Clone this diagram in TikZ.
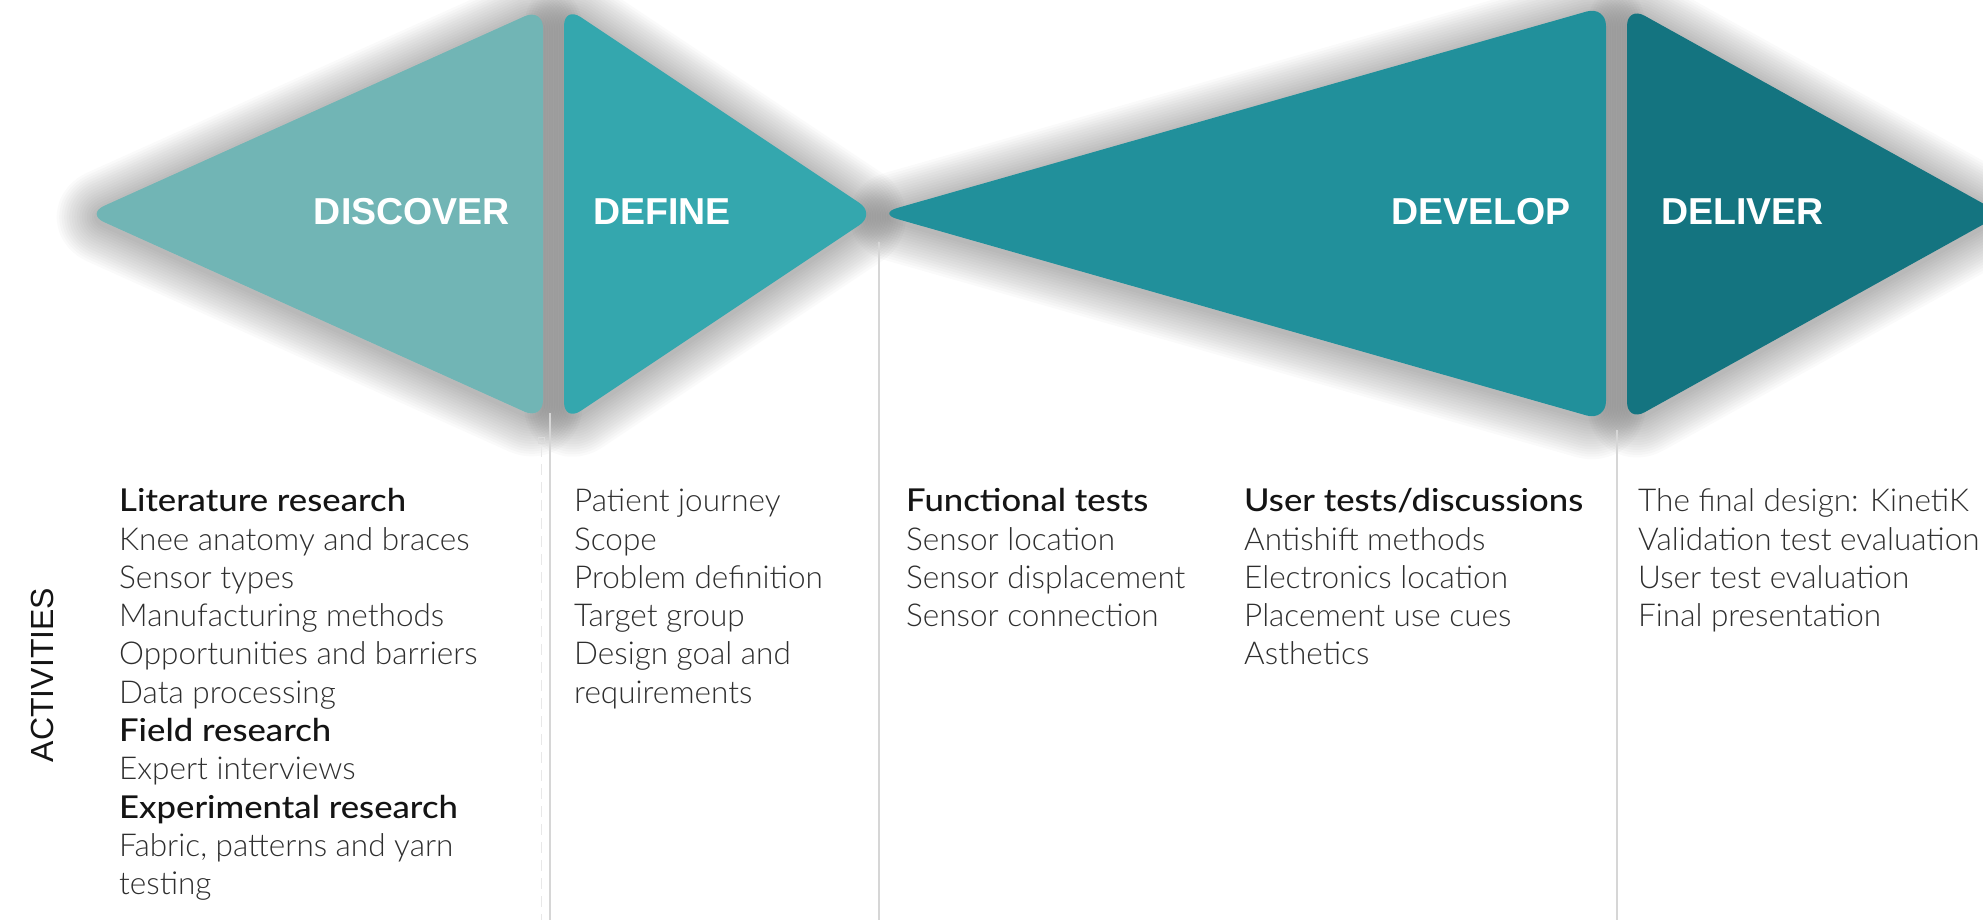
\documentclass[tikz,border=0pt]{standalone}
\usepackage{fontspec}
\setmainfont{Liberation Sans}
\IfFontExistsTF{Lato Light}
  {\newfontfamily\lightfont{Lato Light}}
  {\newfontfamily\lightfont{Liberation Sans}}
\IfFontExistsTF{Lato Medium}
  {\newfontfamily\medfont{Lato Medium}[FakeStretch=1.1]}
  {\newfontfamily\medfont{Liberation Sans}}
\newfontfamily\headfont{Liberation Sans}[BoldFont={Liberation Sans Bold}]

\definecolor{discover}{HTML}{71B5B5}
\definecolor{define}{HTML}{34A7AE}
\definecolor{develop}{HTML}{21909B}
\definecolor{deliver}{HTML}{147480}
\definecolor{divider}{HTML}{D6D6D6}
\definecolor{ink}{HTML}{2E2E2E}
\definecolor{inkdark}{HTML}{141414}

\newcommand\itemfont{\lightfont\fontsize{31.5}{38}\selectfont}
\newcommand\titlefont{\headfont\bfseries\fontsize{37.5}{40}\selectfont}
\newcommand\actfont{\headfont\fontsize{32}{34}\selectfont}
\newcommand\hd{\medfont\color{inkdark}}

\tikzset{
  phase/.style={rounded corners=20pt},
  glow/.style={phase, line join=round, draw=black, draw opacity=0.02},
  title/.style={font=\titlefont, text=white, inner sep=0pt},
  item/.style={font=\itemfont, text=ink, anchor=base west, inner sep=0pt},
  divider/.style={draw=divider, line width=1.3pt},
}

\begin{document}
\begin{tikzpicture}[x=1pt,y=-1pt]
  \useasboundingbox (0,0) rectangle (1983,920);
  \clip (0,0) rectangle (1983,920);

  % corner points of the four phase triangles (m = middle of the flat side)
  \coordinate (dcm) at (543,214);  \coordinate (dca) at (543,8);
  \coordinate (dct) at (86,214);   \coordinate (dcb) at (543,420);
  \coordinate (dfm) at (564,214);  \coordinate (dfa) at (564,6);
  \coordinate (dft) at (876,214);  \coordinate (dfb) at (564,422);
  \coordinate (dvm) at (1606,213.5); \coordinate (dva) at (1606,6);
  \coordinate (dvt) at (878,213.5);  \coordinate (dvb) at (1606,421);
  \coordinate (dlm) at (1627,214); \coordinate (dla) at (1627,6);
  \coordinate (dlt) at (2002,214); \coordinate (dlb) at (1627,422);

  % soft drop shadow: stacked translucent strokes, slightly lowered
  \begin{scope}[transform canvas={yshift=-3pt}]
    \foreach \n in {dc, df, dv, dl}
      \foreach \w in {5,10,...,80}
        \draw[glow, line width=\w pt] (\n m) -- (\n a) -- (\n t) -- (\n b) -- cycle;
  \end{scope}

  % phase triangles
  \foreach \n/\c in {dc/discover, df/define, dv/develop, dl/deliver}
    \fill[phase, \c] (\n m) -- (\n a) -- (\n t) -- (\n b) -- cycle;

  % phase titles
  \node[title, anchor=base east] (tdiscover) at (510,225) {DISCOVER};
  \node[title, anchor=base west] (tdefine)   at (593,225) {DEFINE};
  \node[title, anchor=base east] (tdevelop)  at (1571,225) {DEVELOP};
  \node[title, anchor=base west] (tdeliver)  at (1661,225) {DELIVER};

  % column dividers
  \coordinate (v1t) at (550,413);  \coordinate (v1b) at (550,920);
  \coordinate (v2t) at (879,242);  \coordinate (v2b) at (879,920);
  \coordinate (v3t) at (1617,430); \coordinate (v3b) at (1617,920);
  \draw[divider] (v1t) -- (v1b);
  \draw[divider] (v2t) -- (v2b);
  \draw[divider] (v3t) -- (v3b);
  \coordinate (g1t) at (541,446); \coordinate (g1b) at (541,920);
  \draw[gray!18, line width=1pt, dash pattern=on 11pt off 7pt] (g1t) -- (g1b);
  \draw[gray!28, line width=0.8pt] (538,437) rectangle (544,443);

  % side label
  \node[rotate=90, font=\actfont, text=inkdark, inner sep=0pt] (act) at (42,675) {ACTIVITIES};

  % activity lists
  \foreach \t [count=\i from 0] in {{\hd Literature research}, Knee anatomy and braces,
      Sensor types, Manufacturing methods, Opportunities and barriers, Data processing,
      {\hd Field research}, Expert interviews, {\hd Experimental research},
      {Fabric, patterns and yarn}, testing}
    \node[item, name=a\i] at (119, 511.7+38.3*\i) {\t};
  \foreach \t [count=\i from 0] in {Patient journey, Scope, Problem definition,
      Target group, Design goal and, requirements}
    \node[item, name=b\i] at (574, 511.7+38.3*\i) {\t};
  \foreach \t [count=\i from 0] in {{\hd Functional tests}, Sensor location,
      Sensor displacement, Sensor connection}
    \node[item, name=c\i] at (906, 511.7+38.3*\i) {\t};
  \foreach \t [count=\i from 0] in {{\hd User tests/discussions}, Antishift methods,
      Electronics location, Placement use cues, Asthetics}
    \node[item, name=d\i] at (1244, 511.7+38.3*\i) {\t};
  \foreach \t [count=\i from 0] in {The final design: KinetiK, Validation test evaluation,
      User test evaluation, Final presentation}
    \node[item, name=e\i] at (1638, 511.7+38.3*\i) {\t};
\end{tikzpicture}
\end{document}
